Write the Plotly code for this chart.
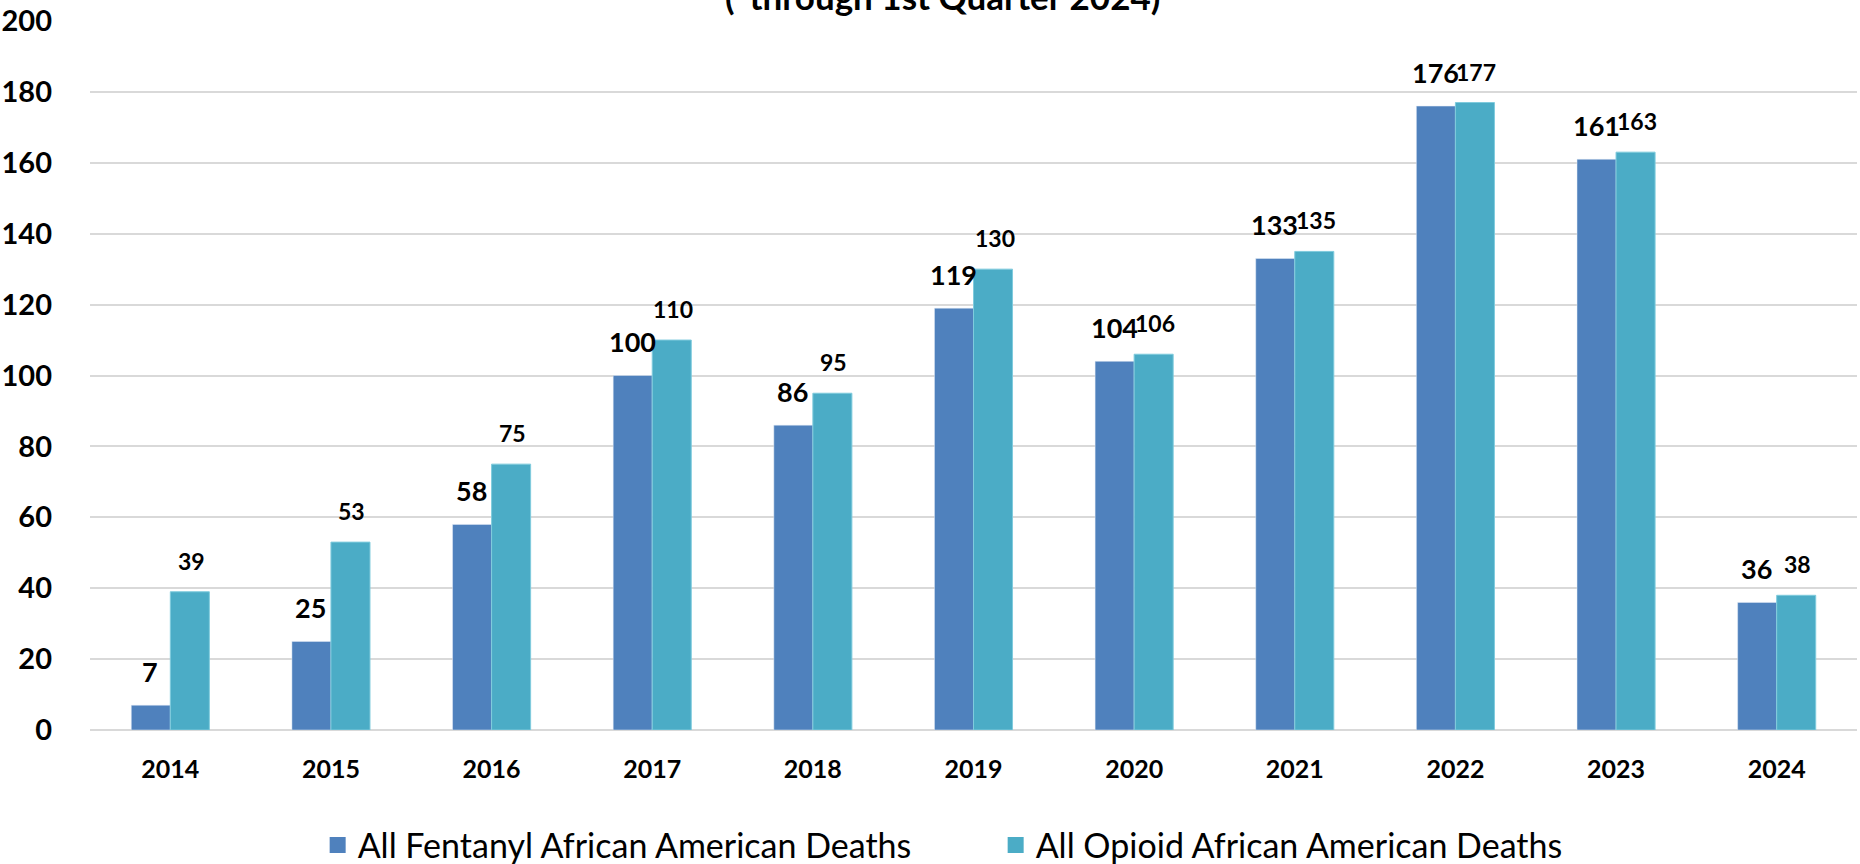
import plotly.graph_objects as go

years = ["2014", "2015", "2016", "2017", "2018", "2019", "2020", "2021", "2022", "2023", "2024"]
fentanyl = [7, 25, 58, 100, 86, 119, 104, 133, 176, 161, 36]
opioid = [39, 53, 75, 110, 95, 130, 106, 135, 177, 163, 38]
series_names = ["All Fentanyl African American Deaths", "All Opioid African American Deaths"]
title_text = "(*through 1st Quarter 2024)"
y_ticks = [0, 20, 40, 60, 80, 100, 120, 140, 160, 180, 200]

FONT = "Lato"
C_FEN = "#4F81BD"
C_OPI = "#4BACC6"

fig = go.Figure()
fig.add_trace(go.Bar(x=years, y=fentanyl, name=series_names[0], marker_color=C_FEN, showlegend=False))
fig.add_trace(go.Bar(x=years, y=opioid, name=series_names[1], marker_color=C_OPI,
                     marker_line=dict(color="#7FCBDD", width=1), showlegend=False))
# legend entries (square swatches)
for nm, col in zip(series_names, [C_FEN, C_OPI]):
    fig.add_trace(go.Scatter(x=[None], y=[None], mode="markers", name=nm,
                             marker=dict(symbol="square", size=21, color=col)))

annotations = []
for i, v in enumerate(fentanyl):
    annotations.append(dict(x=i, y=v, xref="x", yref="y", text=str(v), showarrow=False,
                            xshift=-20, yshift=34, yanchor="middle",
                            font=dict(family=FONT, size=27, color="#000000", weight="bold")))
for i, v in enumerate(opioid):
    annotations.append(dict(x=i, y=v, xref="x", yref="y", text=str(v), showarrow=False,
                            xshift=21, yshift=31, yanchor="middle",
                            font=dict(family=FONT, size=23, color="#000000", weight="bold")))
annotations.append(dict(x=0.4825, y=1, xref="paper", yref="paper", text=title_text, showarrow=False,
                        yanchor="middle", yshift=25,
                        font=dict(family=FONT, size=35, color="#000000", weight="bold")))

fig.update_layout(
    width=1860, height=864,
    margin=dict(l=90, r=3, t=21, b=134),
    paper_bgcolor="white", plot_bgcolor="white",
    barmode="group", bargap=0.514, bargroupgap=0,
    annotations=annotations,
    showlegend=True,
    legend=dict(orientation="h", xref="container", yref="container",
                x=0.5353, xanchor="center", y=0.0215, yanchor="middle",
                font=dict(family=FONT, size=34, color="#000000"),
                entrywidth=633, entrywidthmode="pixels", tracegroupgap=0),
    xaxis=dict(type="category", range=[-0.5, 10.5], autorange=False,
               showgrid=False, showline=False, zeroline=False,
               ticks="", ticklabelstandoff=22,
               tickfont=dict(family=FONT, size=25, color="#000000", weight="bold")),
    yaxis=dict(range=[0, 200], autorange=False, tickvals=y_ticks, showgrid=True,
               gridcolor="#D9D9D9", gridwidth=2,
               zeroline=True, zerolinecolor="#D9D9D9", zerolinewidth=2, showline=False,
               ticks="", ticklabelstandoff=37,
               tickfont=dict(family=FONT, size=29, color="#000000", weight="bold")),
)

fig.write_html("out.html", config={"displayModeBar": False},
               post_script="document.body.style.margin='0';")
